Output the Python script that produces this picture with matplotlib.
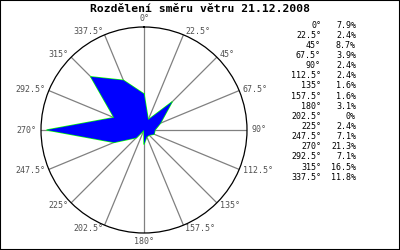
import numpy as np
import matplotlib
matplotlib.use("Agg")
import matplotlib.pyplot as plt
from matplotlib.patches import Rectangle

# wind direction data
smery = [0, 22.5, 45, 67.5, 90, 112.5, 135, 157.5,
         180, 202.5, 225, 247.5, 270, 292.5, 315, 337.5]
procenta = [7.9, 2.4, 8.7, 3.9, 2.4, 2.4, 1.6, 1.6,
            3.1, 0, 2.4, 7.1, 21.3, 7.1, 16.5, 11.8]
popisky = ["0°", "22.5°", "45°", "67.5°", "90°", "112.5°", "135°", "157.5°",
           "180°", "202.5°", "225°", "247.5°", "270°", "292.5°", "315°", "337.5°"]
titulek = "Rozdělení směru větru 21.12.2008"

plt.rcParams['font.family'] = ['DejaVu Sans Mono']
rmax = 22.6

fig = plt.figure(figsize=(4, 2.5), dpi=100)
fig.patches.append(Rectangle((0, 0), 1, 1, transform=fig.transFigure,
                             fill=False, edgecolor='black', lw=1.5))

ax = fig.add_axes([0.1025, 0.068, 0.515, 0.824], projection='polar')
ax.set_theta_zero_location('N')
ax.set_theta_direction(-1)
ax.set_ylim(0, rmax)
ax.grid(False)
ax.set_xticks([])
ax.set_yticks([])
ax.spines['polar'].set_color('black')
ax.spines['polar'].set_linewidth(0.9)

th = np.deg2rad(smery)
for t in th:
    ax.plot([t, t], [0, rmax], color='#808080', lw=0.9, zorder=1)

thc = np.append(th, th[0])
rc = np.append(procenta, procenta[0])
ax.plot(thc, rc, color='#00ff00', lw=1.0, zorder=2)
ax.fill(thc, rc, facecolor='#0000ff', edgecolor='none', zorder=3)

for t, lab in zip(th, popisky):
    s, c = np.sin(t), np.cos(t)
    ha = 'left' if s > 0.01 else ('right' if s < -0.01 else 'center')
    if abs(s) < 0.01:
        va = 'bottom' if c > 0 else 'top'
    else:
        va = 'center'
    ax.text(t, rmax * 1.04, lab, ha=ha, va=va, fontsize=6.0, color='#505050',
            clip_on=False)

fig.text(0.5, 0.966, titulek, ha='center', va='center', fontsize=8.2,
         fontweight='bold')

for i, (lab, p) in enumerate(zip(popisky, procenta)):
    y = 1 - (25 + i * 10.15) / 250
    fig.text(321 / 400, y, lab, ha='right', va='center', fontsize=6.0)
    fig.text(356 / 400, y, "{:g}%".format(p), ha='right', va='center', fontsize=6.0)

fig.savefig("out.png", dpi=100)
